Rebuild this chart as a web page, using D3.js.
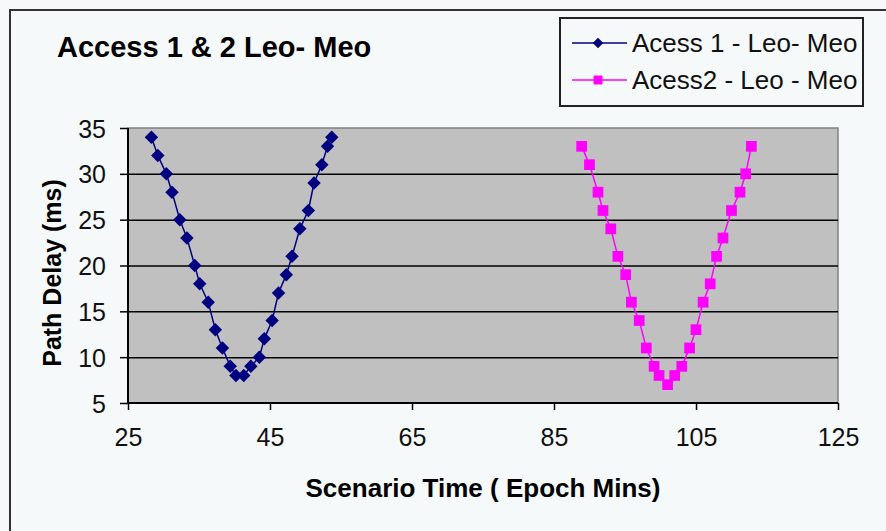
<!DOCTYPE html>
<html>
<head>
<meta charset="utf-8">
<script src="https://cdn.jsdelivr.net/npm/d3@7"></script>
<style>
  body { margin: 0; background: #f6f9f9; }
  svg { display: block; font-family: "Liberation Sans", Arial, sans-serif; }
</style>
</head>
<body>
<div id="chart"></div>
<script>
// Access 1 & 2 Leo - Meo path delay

const access1Time = [28.3, 29.2, 30.4, 31.2, 32.3, 33.3, 34.4, 35.1, 36.3, 37.3, 38.3, 39.4, 40.2, 41.3,
                     42.3, 43.5, 44.2, 45.3, 46.2, 47.3, 48.1, 49.2, 50.4, 51.2, 52.3, 53.1, 53.7];
const access1Delay = [34, 32, 30, 28, 25, 23, 20, 18, 16, 13, 11, 9, 8, 8,
                      9, 10, 12, 14, 17, 19, 21, 24, 26, 29, 31, 33, 34];

const access2Time = [88.9, 90, 91.2, 91.9, 93, 94, 95.1, 95.9, 97, 98, 99.1, 99.8, 101,
                     102, 103, 104.1, 105, 106, 107, 107.9, 108.8, 110, 111.2, 112, 112.8];
const access2Delay = [33, 31, 28, 26, 24, 21, 19, 16, 14, 11, 9, 8, 7,
                      8, 9, 11, 13, 16, 18, 21, 23, 26, 28, 30, 33];

const seriesNames = ['Acess 1 - Leo- Meo', 'Acess2 - Leo - Meo'];
const xTicks = [25, 45, 65, 85, 105, 125];
const yTicks = [5, 10, 15, 20, 25, 30, 35];

const W = 886, H = 531;
const plot = {left: 128, right: 838, top: 128, bottom: 403};

const svg = d3.select('#chart').append('svg')
    .attr('width', W)
    .attr('height', H);

// outer chart frame (runs off the right / bottom edge)
svg.append('rect')
    .attr('x', 10).attr('y', 10)
    .attr('width', W + 20).attr('height', H + 20)
    .attr('fill', '#f6f9f9')
    .attr('stroke', '#333')
    .attr('stroke-width', 2);

const x = d3.scaleLinear().domain([25, 125]).range([plot.left, plot.right]);
const y = d3.scaleLinear().domain([5, 35]).range([plot.bottom, plot.top]);

// plot area
svg.append('rect')
    .attr('x', plot.left).attr('y', plot.top)
    .attr('width', plot.right - plot.left)
    .attr('height', plot.bottom - plot.top)
    .attr('fill', '#c0c0c0')
    .attr('stroke', '#808080')
    .attr('stroke-width', 1.5);

// gridlines
svg.append('g')
    .attr('transform', `translate(${plot.left},0)`)
    .call(d3.axisLeft(y).tickValues(yTicks.filter(d => d > 5 && d < 35))
        .tickSize(-(plot.right - plot.left)).tickFormat(''))
    .call(g => g.select('.domain').remove())
    .call(g => g.selectAll('line').attr('stroke', '#000').attr('stroke-width', 1.5));

// y axis
svg.append('g')
    .attr('transform', `translate(${plot.left},0)`)
    .call(d3.axisLeft(y).tickValues(yTicks).tickSize(8).tickPadding(14))
    .call(g => g.select('.domain').attr('d', `M0,${plot.top}V${plot.bottom}`).attr('stroke', '#000').attr('stroke-width', 2))
    .call(g => g.selectAll('line').attr('stroke', '#000').attr('stroke-width', 1.5))
    .call(g => g.selectAll('text').attr('fill', '#111').style('font-size', '25px').attr('dy', '0.36em'));

// x axis
svg.append('g')
    .attr('transform', `translate(0,${plot.bottom})`)
    .call(d3.axisBottom(x).tickValues(xTicks).tickSize(7).tickPadding(18))
    .call(g => g.select('.domain').attr('d', `M${plot.left},0H${plot.right}`).attr('stroke', '#000').attr('stroke-width', 2))
    .call(g => g.selectAll('line').attr('stroke', '#000').attr('stroke-width', 1.5))
    .call(g => g.selectAll('text').attr('fill', '#111').style('font-size', '25px'));

// titles
svg.append('text')
    .attr('x', 57).attr('y', 57)
    .style('font-size', '29px').style('font-weight', 'bold')
    .attr('fill', '#000')
    .text('Access 1 & 2 Leo- Meo');

svg.append('text')
    .attr('x', 483).attr('y', 497)
    .attr('text-anchor', 'middle')
    .style('font-size', '26px').style('font-weight', 'bold')
    .attr('fill', '#000')
    .text('Scenario Time ( Epoch Mins)');

svg.append('text')
    .attr('transform', 'translate(61,273) rotate(-90)')
    .attr('text-anchor', 'middle')
    .style('font-size', '25px').style('font-weight', 'bold')
    .attr('fill', '#000')
    .text('Path Delay (ms)');

// series
const s1 = access1Time.map((t, i) => ({t, v: access1Delay[i]}));
const s2 = access2Time.map((t, i) => ({t, v: access2Delay[i]}));
const line = d3.line().x(d => x(d.t)).y(d => y(d.v));

svg.append('path').datum(s1)
    .attr('d', line).attr('fill', 'none')
    .attr('stroke', '#000080').attr('stroke-width', 1.5);

svg.append('path').datum(s2)
    .attr('d', line).attr('fill', 'none')
    .attr('stroke', '#ff00ff').attr('stroke-width', 1.5);

const diamond = d3.symbol().type(d3.symbolDiamond2).size(115);
const square = d3.symbol().type(d3.symbolSquare).size(115);

svg.selectAll('.m1').data(s1).enter().append('path')
    .attr('class', 'm1')
    .attr('d', diamond)
    .attr('transform', d => `translate(${x(d.t)},${y(d.v)})`)
    .attr('fill', '#000080');

svg.selectAll('.m2').data(s2).enter().append('path')
    .attr('class', 'm2')
    .attr('d', square)
    .attr('transform', d => `translate(${x(d.t)},${y(d.v)})`)
    .attr('fill', '#ff00ff');

// legend
const legend = svg.append('g');
legend.append('rect')
    .attr('x', 560).attr('y', 18)
    .attr('width', 303).attr('height', 88)
    .attr('fill', '#f6f9f9')
    .attr('stroke', '#222').attr('stroke-width', 2);

const legendItems = [
    {name: seriesNames[0], color: '#000080', sym: d3.symbol().type(d3.symbolDiamond2).size(70), y: 43},
    {name: seriesNames[1], color: '#ff00ff', sym: d3.symbol().type(d3.symbolSquare).size(80), y: 80}
];
legendItems.forEach(it => {
    legend.append('line')
        .attr('x1', 572).attr('x2', 627)
        .attr('y1', it.y).attr('y2', it.y)
        .attr('stroke', it.color).attr('stroke-width', 1.5);
    legend.append('path')
        .attr('d', it.sym)
        .attr('transform', `translate(598,${it.y})`)
        .attr('fill', it.color);
    legend.append('text')
        .attr('x', 632).attr('y', it.y)
        .attr('dy', '0.36em')
        .style('font-size', '26px')
        .attr('fill', '#111')
        .text(it.name);
});
</script>
</body>
</html>
